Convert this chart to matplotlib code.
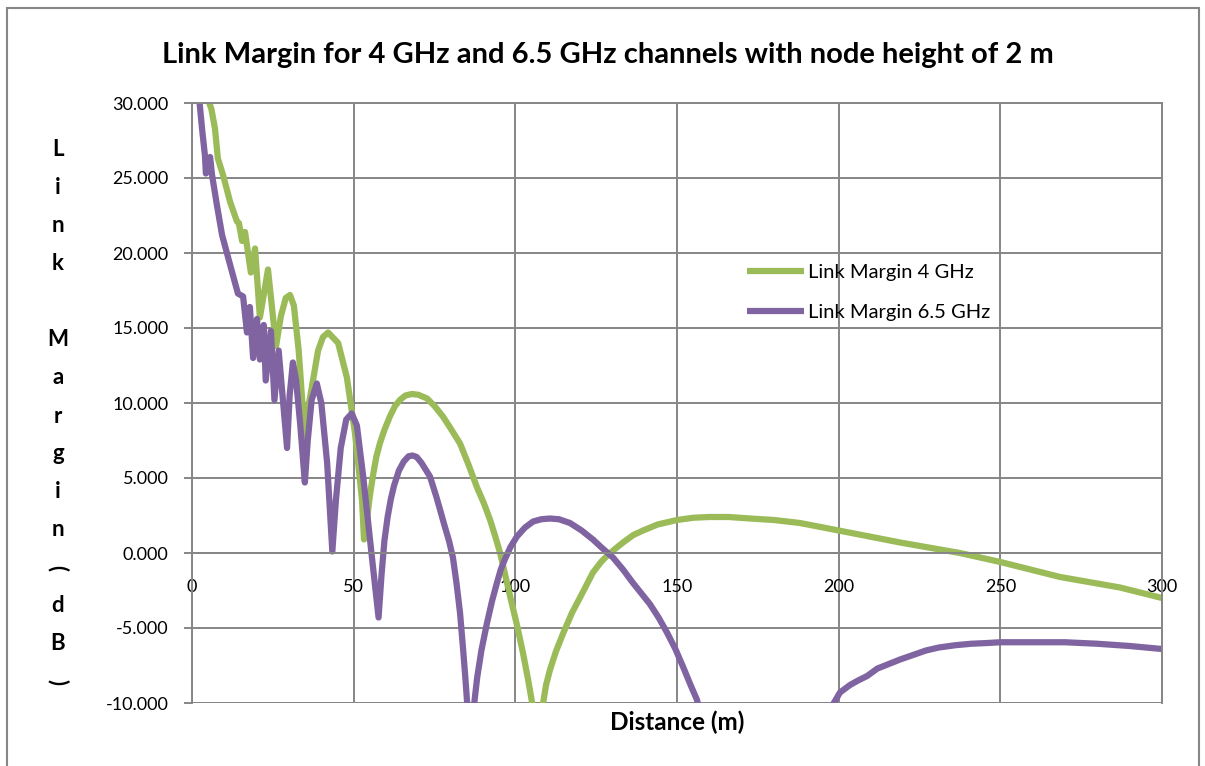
import numpy as np
import matplotlib.pyplot as plt
from matplotlib.patches import Rectangle

plt.rcParams["font.family"] = ["Lato", "DejaVu Sans"]

# distance (m) and link margin (dB); nan = below the axis
dist_4g = [4.0, 6.0, 7.1, 8.0, 9.6, 11.8, 13.9, 14.5, 15.5, 16.4, 18.2, 19.5, 21.0,
           23.5, 26.0, 27.5, 29.0, 30.3, 31.5, 33.0, 34.3, 34.9, 35.8, 37.1, 39.0,
           40.5, 42.1, 45.2, 47.9, 50.4, 52.6, 53.2, 54.1, 55.0, 56.0, 57.0, 58.1,
           59.5, 61.2, 62.8, 64.3, 66.0, 68.0, 70.0, 72.7, 75.0, 77.6, 80.0, 82.9,
           85.5, 88.1, 90.3, 92.2, 93.8, 95.3, 96.8, 98.4, 100.5, 102.4, 104.0,
           105.2, 106.8, 108.6, 109.5, 110.7, 112.5, 114.7, 117.5, 120.9, 124.0,
           126.5, 128.3, 131.0, 133.3, 136.5, 139.5, 144.0, 150.0, 155.0, 160.0,
           166.0, 172.6, 180.0, 188.0, 200.0, 219.0, 237.5, 250.0, 268.5, 287.0, 300.0]
margin_4g = [30.8, 29.6, 28.3, 26.3, 25.2, 23.4, 22.1, 22.0, 20.8, 21.4, 18.7, 20.3, 15.7,
             18.9, 13.8, 15.8, 17.0, 17.2, 16.5, 13.5, 9.5, 7.7, 9.5, 11.1, 13.5,
             14.4, 14.7, 14.0, 11.7, 8.0, 3.5, 0.9, 2.2, 3.8, 5.2, 6.4, 7.3,
             8.2, 9.1, 9.8, 10.2, 10.5, 10.6, 10.55, 10.3, 9.8, 9.1, 8.3, 7.3,
             5.9, 4.4, 3.3, 2.2, 1.1, 0.0, -1.4, -2.9, -4.8, -6.7, -8.5,
             -10.0, -11.5, -10.0, -8.8, -7.8, -6.6, -5.4, -4.0, -2.6, -1.3,
             -0.6, -0.2, 0.3, 0.7, 1.2, 1.5, 1.9, 2.2, 2.35, 2.4,
             2.4, 2.3, 2.2, 2.0, 1.5, 0.7, 0.0, -0.6, -1.6, -2.3, -3.0]

dist_65g = [2.0, 3.1, 4.0, 4.3, 5.6, 6.2, 7.7, 9.3, 11.8, 14.2, 15.8, 17.0, 17.9,
            18.9, 20.1, 21.0, 22.2, 22.8, 24.4, 25.5, 26.8, 28.0, 29.4, 30.2, 31.2,
            32.2, 33.5, 34.9, 35.8, 37.0, 38.6, 40.0, 41.8, 43.4, 44.5, 46.0, 47.7,
            49.4, 51.0, 53.0, 55.5, 57.7, 58.6, 59.5, 60.5, 61.5, 62.5, 64.0, 65.5,
            67.0, 68.2, 69.5, 71.0, 73.6, 75.5, 76.7, 78.0, 79.5, 80.7, 81.8, 82.9,
            83.8, 84.5, 85.1, 86.3, 87.3, 88.2, 89.5, 91.2, 92.8, 94.3, 95.5, 96.8,
            98.5, 100.5, 103.0, 105.5, 108.0, 110.7, 113.5, 116.9, 120.5, 124.0,
            127.0, 130.2, 133.3, 136.4, 139.0, 141.6, 144.3, 146.9, 149.5, 151.9,
            154.2, 156.2, 157.0, 180.0, 197.5, 198.5, 200.4, 203.5, 206.0, 208.8,
            212.0, 215.5, 219.0, 223.0, 227.0, 231.0, 236.0, 241.0, 246.0, 250.0,
            260.0, 270.0, 280.0, 290.0, 300.0]
margin_65g = [30.8, 28.3, 26.5, 25.3, 26.4, 25.2, 23.2, 21.2, 19.2, 17.3, 17.1, 14.7, 16.4,
              13.0, 15.6, 12.9, 15.2, 11.5, 14.8, 10.2, 13.5, 10.5, 7.0, 10.5, 12.7,
              11.5, 8.5, 4.7, 7.5, 10.2, 11.3, 10.0, 6.0, 0.1, 3.5, 7.0, 8.9,
              9.3, 8.5, 5.0, 0.0, -4.3, -1.5, 0.8, 2.4, 3.6, 4.5, 5.5, 6.1,
              6.45, 6.5, 6.4, 6.0, 5.1, 3.8, 2.9, 1.9, 0.8, -0.3, -2.0, -4.0,
              -6.3, -8.2, -10.0, -11.5, -10.0, -8.3, -6.5, -4.7, -3.2, -2.0, -1.1, -0.4,
              0.4, 1.1, 1.7, 2.1, 2.25, 2.3, 2.25, 2.0, 1.5, 0.9,
              0.3, -0.3, -1.1, -2.0, -2.7, -3.4, -4.3, -5.3, -6.4, -7.6,
              -8.8, -9.8, -10.6, np.nan, -10.6, -10.0, -9.3, -8.8, -8.5, -8.2,
              -7.7, -7.4, -7.1, -6.8, -6.5, -6.3, -6.15, -6.05, -6.0, -5.95,
              -5.95, -5.95, -6.05, -6.2, -6.4]

y_ticks = [-10, -5, 0, 5, 10, 15, 20, 25, 30]
x_ticks = [0, 50, 100, 150, 200, 250, 300]

W, H = 1205, 766
fig = plt.figure(figsize=(W / 100, H / 100), dpi=100)
ax = fig.add_axes([192 / W, 63 / H, 970 / W, 600 / H])

grid_c = "#868686"
ax.plot(dist_4g, margin_4g, color="#9BBB59", lw=4.5, label="Link Margin 4 GHz",
        solid_joinstyle="round", solid_capstyle="butt")
ax.plot(dist_65g, margin_65g, color="#8064A2", lw=4.5, label="Link Margin 6.5 GHz",
        solid_joinstyle="round", solid_capstyle="butt")

ax.set_xlim(0, 300)
ax.set_ylim(-10, 30)
ax.set_yticks(y_ticks)
ax.set_yticklabels([f"{v:.3f}" for v in y_ticks])
ax.set_xticks(x_ticks)
ax.grid(True, color=grid_c, lw=1.4)
ax.set_axisbelow(True)

for s in ax.spines.values():
    s.set_color(grid_c)
    s.set_linewidth(1.4)
ax.spines["bottom"].set_position(("data", 0))
ax.axhline(-10, color=grid_c, lw=1.4, zorder=0)

ax.tick_params(axis="y", labelsize=13, length=6, width=1.4, color=grid_c, pad=11)
ax.tick_params(axis="x", labelsize=13, length=0, pad=19)

ax.legend(loc="upper left", bbox_to_anchor=(747 / W, 1 - 264 / H),
          bbox_transform=fig.transFigure, frameon=False, fontsize=14.5,
          handlelength=2.85, handletextpad=0.2, labelspacing=1.14,
          borderpad=0, borderaxespad=0)

fig.text(608 / W, 1 - 55 / H,
         "Link Margin for 4 GHz and 6.5 GHz channels with node height of 2 m",
         ha="center", va="center", fontsize=21, fontweight="bold")
fig.text(677 / W, 1 - 722 / H, "Distance (m)", ha="center", va="center",
         fontsize=17.5, fontweight="bold")

# stacked y-axis title, one character per line
ylab = "Link Margin(dB)"
for i, ch in enumerate(ylab):
    if ch == " ":
        continue
    rot = -90 if ch in "()" else 0
    fig.text(58 / W, 1 - (150 + 38 * i) / H, ch, ha="center", va="center",
             fontsize=16, fontweight="bold", rotation=rot)

fig.patches.append(Rectangle((7 / W, -0.02), 1192 / W, 1 - 8 / H + 0.02, fill=False,
                             edgecolor=grid_c, lw=1.5, transform=fig.transFigure))

fig.savefig("out.png", dpi=100)
